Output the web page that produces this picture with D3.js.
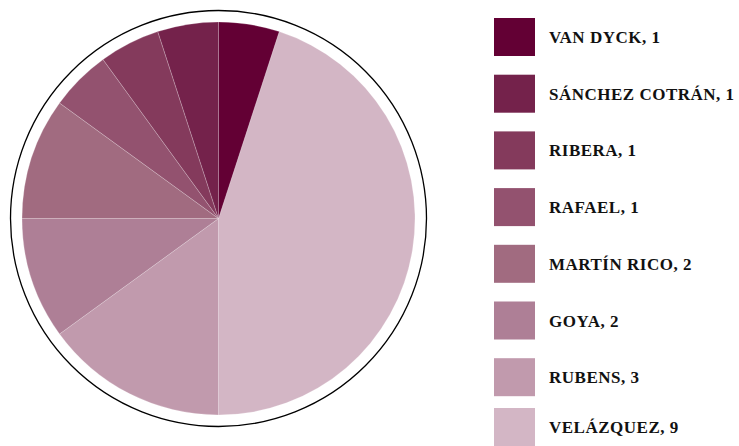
<!DOCTYPE html>
<html>
<head>
<meta charset="utf-8">
<script src="https://cdn.jsdelivr.net/npm/d3@7"></script>
<style>
  body { margin: 0; background: #fff; }
  .legend text { font-family: "Liberation Serif", "DejaVu Serif", serif; font-weight: bold; font-size: 17px; letter-spacing: 0.5px; fill: #111; }
</style>
</head>
<body>
<div id="chart"></div>
<script>
// Data
var painters = ["VAN DYCK", "SÁNCHEZ COTRÁN", "RIBERA", "RAFAEL", "MARTÍN RICO", "GOYA", "RUBENS", "VELÁZQUEZ"];
var counts = [1, 1, 1, 1, 2, 2, 3, 9];
var colors = ["#630034", "#74224b", "#843a5c", "#93526f", "#a16b80", "#ae7f96", "#c19aad", "#d3b6c5"];

var W = 739, H = 446;
var cx = 218.5, cy = 218.5;
var radius = 196.5, ringR = 208;

var data = painters.map(function(p, i){ return {name: p, value: counts[i], color: colors[i]}; });

var svg = d3.select("#chart")
	.append("svg")
		.attr("width", W)
		.attr("height", H);

// outer ring
svg.append("circle")
	.attr("cx", cx)
	.attr("cy", cy)
	.attr("r", ringR)
	.attr("fill", "none")
	.attr("stroke", "#000")
	.attr("stroke-width", 1.3);

// pie : drawn clockwise from the last painter, offset so Van Dyck ends at 12 o'clock
var total = d3.sum(counts);
var offset = 2 * Math.PI * counts[0] / total;
var pie = d3.pie()
	.sort(null)
	.value(function(d){ return d.value; })
	.startAngle(offset)
	.endAngle(offset + 2 * Math.PI);

var arc = d3.arc().innerRadius(0).outerRadius(radius);

var g = svg.append("g")
	.attr("transform", "translate(" + cx + "," + cy + ")");

g.selectAll("path")
	.data(pie(data.slice().reverse()))
	.enter()
	.append("path")
	.attr("d", arc)
	.attr("fill", function(d){ return d.data.color; })
	.attr("stroke", "rgba(255,255,255,0.35)")
	.attr("stroke-width", 0.6);

// Legend
var legend = svg.append("g").attr("class", "legend");
var step = 56.7, top0 = 18, sw = 41, sh = 38;

var items = legend.selectAll("g")
	.data(data)
	.enter()
	.append("g")
	.attr("transform", function(d, i){
		var y = Math.min(top0 + i * step, H - sh);
		return "translate(494," + y + ")";
	});

items.append("rect")
	.attr("width", sw)
	.attr("height", sh)
	.attr("fill", function(d){ return d.color; });

items.append("text")
	.attr("x", 55)
	.attr("y", 25)
	.text(function(d){ return d.name + ", " + d.value; });
</script>
</body>
</html>
